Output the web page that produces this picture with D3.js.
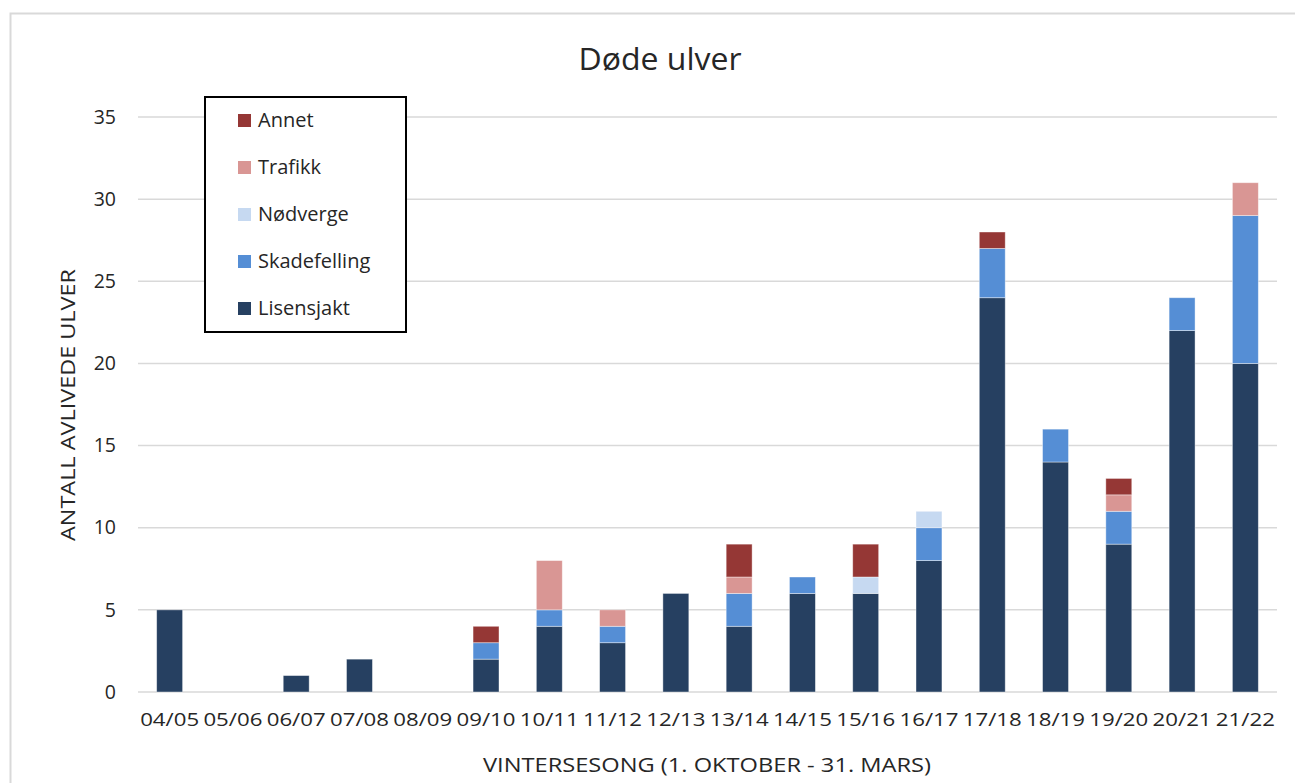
<!DOCTYPE html>
<html>
<head>
<meta charset="utf-8">
<script src="https://cdn.jsdelivr.net/npm/d3@7"></script>
<style>
  body { margin: 0; background: #fff; }
  text { font-family: "Open Sans", "Noto Sans", sans-serif; fill: #262626; }
</style>
</head>
<body>
<div id="chart"></div>
<script>
// chart data
const seasons = ["04/05","05/06","06/07","07/08","08/09","09/10","10/11","11/12","12/13",
  "13/14","14/15","15/16","16/17","17/18","18/19","19/20","20/21","21/22"]
const lisensjakt   = [5,0,1,2,0,2,4,3,6,4,6,6,8,24,14,9,22,20]
const skadefelling = [0,0,0,0,0,1,1,1,0,2,1,0,2,3,2,2,2,9]
const nodverge     = [0,0,0,0,0,0,0,0,0,0,0,1,1,0,0,0,0,0]
const trafikk      = [0,0,0,0,0,0,3,1,0,1,0,0,0,0,0,1,0,2]
const annet        = [0,0,0,0,0,1,0,0,0,2,0,2,0,1,0,1,0,0]
const seriesNames = ["Lisensjakt","Skadefelling","Nødverge","Trafikk","Annet"]
const yTicks = [0,5,10,15,20,25,30,35]

const colors = {
  "Lisensjakt": "#264061",
  "Skadefelling": "#558ED5",
  "Nødverge": "#C6D9F1",
  "Trafikk": "#D99694",
  "Annet": "#953735"
}

const width = 1295
const height = 783
const margin = {top: 117, right: 18, bottom: 91, left: 138}

const svg = d3.select('#chart')
  .append('svg')
  .attr('width', width)
  .attr('height', height)

// outer chart border
svg.append('rect')
  .attr('x', 10.5).attr('y', 13.5)
  .attr('width', 1310).attr('height', 800)
  .attr('fill', 'none')
  .attr('stroke', '#d9d9d9')
  .attr('stroke-width', 2)

// build table for stacking
const table = seasons.map((s, i) => ({
  season: s,
  "Lisensjakt": lisensjakt[i],
  "Skadefelling": skadefelling[i],
  "Nødverge": nodverge[i],
  "Trafikk": trafikk[i],
  "Annet": annet[i]
}))
const stacked = d3.stack().keys(seriesNames)(table)

const xScale = d3.scaleBand()
  .domain(seasons)
  .range([margin.left, width - margin.right])
  .paddingInner(0.59)
  .paddingOuter(0.295)

const yScale = d3.scaleLinear()
  .domain([0, 35])
  .range([height - margin.bottom, margin.top])

// gridlines
svg.append('g')
  .selectAll('line')
  .data(yTicks)
  .enter()
  .append('line')
  .attr('x1', margin.left)
  .attr('x2', width - margin.right)
  .attr('y1', d => yScale(d))
  .attr('y2', d => yScale(d))
  .attr('stroke', '#d9d9d9')
  .attr('stroke-width', 1.5)

// bars
svg.append('g')
  .selectAll('g')
  .data(stacked)
  .enter()
  .append('g')
  .attr('fill', d => colors[d.key])
  .selectAll('rect')
  .data(d => d.filter(p => p[1] - p[0] > 0))
  .enter()
  .append('rect')
  .attr('x', d => xScale(d.data.season))
  .attr('width', xScale.bandwidth())
  .attr('y', d => yScale(d[1]))
  .attr('height', d => yScale(d[0]) - yScale(d[1]))
  .attr('stroke', '#ffffff')
  .attr('stroke-opacity', 0.5)
  .attr('stroke-width', 0.8)

// y axis labels
const yAxis = d3.axisLeft(yScale).tickValues(yTicks).tickSize(0).tickPadding(22)
const yG = svg.append('g')
  .attr('transform', 'translate(' + margin.left + ',0)')
  .call(yAxis)
yG.select('.domain').remove()
yG.selectAll('text')
  .style('font-size', '19.5px')
  .style('font-family', '"Open Sans", sans-serif')
  .attr('fill', '#404040')

// x axis labels
const xAxis = d3.axisBottom(xScale).tickSize(0).tickPadding(21)
const xG = svg.append('g')
  .attr('transform', 'translate(0,' + (height - margin.bottom) + ')')
  .call(xAxis)
xG.select('.domain').remove()
xG.selectAll('text')
  .style('font-size', '18.5px')
  .style('font-family', '"Open Sans", sans-serif')
  .attr('fill', '#404040')
  .attr('textLength', 59)
  .attr('lengthAdjust', 'spacingAndGlyphs')

// titles
svg.append('text')
  .attr('x', 660).attr('y', 70)
  .attr('text-anchor', 'middle')
  .style('font-size', '31px')
  .attr('textLength', 163)
  .attr('lengthAdjust', 'spacingAndGlyphs')
  .text('Døde ulver')

svg.append('text')
  .attr('x', 707).attr('y', 772)
  .attr('text-anchor', 'middle')
  .style('font-size', '20px')
  .attr('fill', '#262626')
  .attr('textLength', 448)
  .attr('lengthAdjust', 'spacingAndGlyphs')
  .text('VINTERSESONG (1. OKTOBER - 31. MARS)')

svg.append('text')
  .attr('transform', 'translate(75,405) rotate(-90)')
  .attr('text-anchor', 'middle')
  .style('font-size', '20px')
  .attr('textLength', 272)
  .attr('lengthAdjust', 'spacingAndGlyphs')
  .text('ANTALL AVLIVEDE ULVER')

// legend
const legend = svg.append('g')
legend.append('rect')
  .attr('x', 205).attr('y', 97)
  .attr('width', 201).attr('height', 235)
  .attr('fill', '#fff')
  .attr('stroke', '#000')
  .attr('stroke-width', 2)

const legendOrder = seriesNames.slice().reverse()
const items = legend.selectAll('g.item')
  .data(legendOrder)
  .enter()
  .append('g')
  .attr('class', 'item')
  .attr('transform', (d, i) => 'translate(238,' + (120 + i * 47) + ')')
items.append('rect')
  .attr('x', 0).attr('y', -6)
  .attr('width', 13).attr('height', 13)
  .attr('fill', d => colors[d])
items.append('text')
  .attr('x', 20).attr('y', 7)
  .style('font-size', '20px')
  .text(d => d)
</script>
</body>
</html>
